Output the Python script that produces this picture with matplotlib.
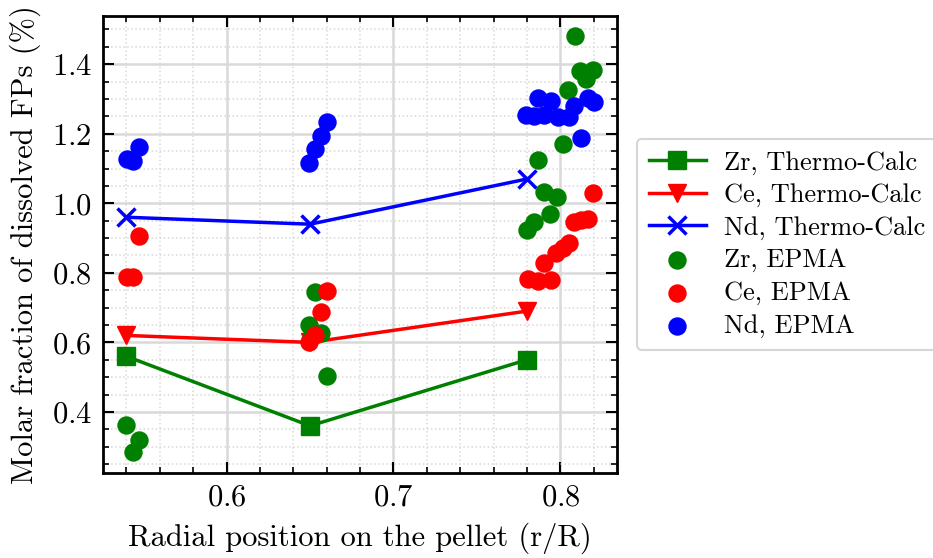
import matplotlib
matplotlib.use("Agg")
import matplotlib.pyplot as plt
from matplotlib.ticker import MultipleLocator

plt.rcParams['font.family'] = ['cmr10', 'DejaVu Serif']
plt.rcParams['mathtext.fontset'] = 'cm'
plt.rcParams['axes.formatter.use_mathtext'] = True
plt.rcParams['font.size'] = 22

# Thermo-Calc predictions
tc_r = [0.54, 0.65, 0.78]
tc_zr = [0.56, 0.36, 0.55]
tc_ce = [0.62, 0.60, 0.69]
tc_nd = [0.96, 0.94, 1.07]

# EPMA measurements
zr_r = [0.540, 0.5475, 0.544, 0.653, 0.6496, 0.6568, 0.6604, 0.6505,
        0.8088, 0.812, 0.8196, 0.8154, 0.8048, 0.8014, 0.7868, 0.7904,
        0.798, 0.794, 0.784, 0.780]
zr_val = [0.363, 0.320, 0.285, 0.745, 0.650, 0.627, 0.502, 0.615,
          1.480, 1.381, 1.383, 1.359, 1.325, 1.172, 1.126, 1.033,
          1.019, 0.969, 0.947, 0.923]

ce_r = [0.5405, 0.5439, 0.5475, 0.6604, 0.6568, 0.6532, 0.6496,
        0.8194, 0.808, 0.8124, 0.8164, 0.8054, 0.8014, 0.7974, 0.7904,
        0.7806, 0.7864, 0.7944]
ce_val = [0.788, 0.788, 0.906, 0.749, 0.686, 0.621, 0.602,
          1.029, 0.947, 0.952, 0.955, 0.886, 0.871, 0.856, 0.827,
          0.782, 0.778, 0.779]

nd_r = [0.5403, 0.544, 0.5475, 0.6604, 0.6568, 0.6532, 0.6496,
        0.7864, 0.7944, 0.7792, 0.7844, 0.7904, 0.7984, 0.8054, 0.8084,
        0.8164, 0.820, 0.8124]
nd_val = [1.128, 1.121, 1.163, 1.233, 1.193, 1.155, 1.115,
          1.304, 1.295, 1.254, 1.252, 1.254, 1.249, 1.247, 1.279,
          1.304, 1.291, 1.189]

fig = plt.figure(figsize=(9.33, 5.58), dpi=100)
ax = fig.add_axes([0.1104, 0.1529, 0.551, 0.819])

ax.plot(tc_r, tc_zr, color='green', marker='s', ms=13, lw=2.5, label='Zr, Thermo-Calc', zorder=3)
ax.plot(tc_r, tc_ce, color='red', marker='v', ms=13, lw=2.5, label='Ce, Thermo-Calc', zorder=3)
ax.plot(tc_r, tc_nd, color='blue', marker='x', ms=13, mew=2.5, lw=2.5, label='Nd, Thermo-Calc', zorder=3)

ax.scatter(zr_r, zr_val, s=150, color='green', label='Zr, EPMA', zorder=4)
ax.scatter(ce_r, ce_val, s=150, color='red', label='Ce, EPMA', zorder=4)
ax.scatter(nd_r, nd_val, s=150, color='blue', label='Nd, EPMA', zorder=4)

ax.set_xlabel('Radial position on the pellet (r/R)', labelpad=8)
ax.set_ylabel('Molar fraction of dissolved FPs (%)', labelpad=8)

ax.xaxis.set_major_locator(MultipleLocator(0.1))
ax.xaxis.set_minor_locator(MultipleLocator(0.02))
ax.yaxis.set_major_locator(MultipleLocator(0.2))
ax.yaxis.set_minor_locator(MultipleLocator(0.05))
ax.tick_params(which='both', direction='in', top=True, right=True, pad=8)
ax.tick_params(which='major', length=8, width=1.5)
ax.tick_params(which='minor', length=4.5, width=1.2)
for sp in ax.spines.values():
    sp.set_linewidth(2)

ax.grid(which='major', color='#d9d9d9', lw=1.8, ls='-')
ax.grid(which='minor', color='#d9d9d9', lw=1.1, ls=':')
ax.set_axisbelow(True)

leg = ax.legend(loc='center left', bbox_to_anchor=(1.039, 0.5), fontsize=19,
                frameon=True, fancybox=True, edgecolor='#cccccc',
                borderaxespad=0, handlelength=2.15, handletextpad=0.7,
                borderpad=0.45, labelspacing=0.33)
leg.get_frame().set_linewidth(1.5)

fig.savefig('out.png', dpi=100)
